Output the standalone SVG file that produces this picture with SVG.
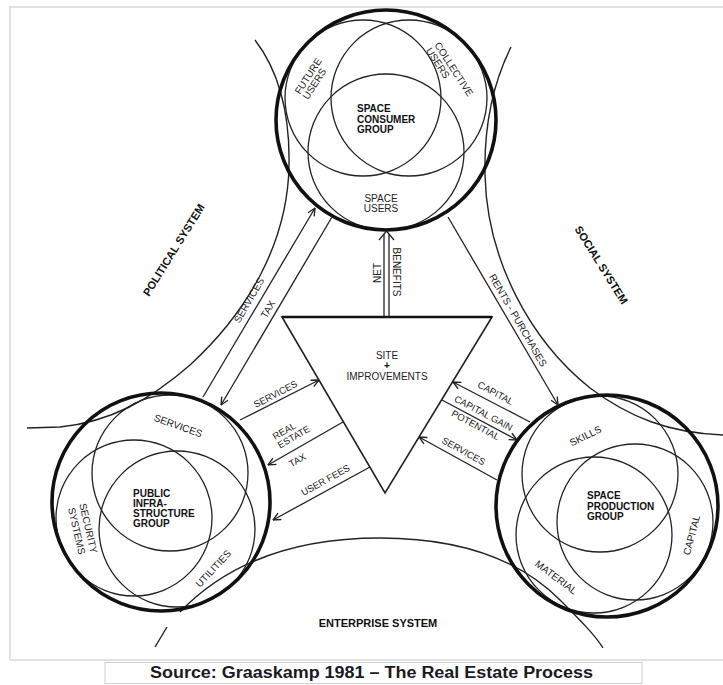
<svg xmlns="http://www.w3.org/2000/svg" width="723" height="685" viewBox="0 0 723 685">
<defs>
<style>
.outer{fill:none;stroke:#111;stroke-width:3.6}
.inner{fill:none;stroke:#222;stroke-width:1.3}
.sys{fill:none;stroke:#222;stroke-width:1.4}
.ln{fill:none;stroke:#222;stroke-width:1.3}
.arr{fill:none;stroke:#222;stroke-width:1.3;marker-end:url(#ah)}
.t{font-family:"Liberation Sans",Arial,sans-serif;font-size:10px;fill:#222}
.s{font-size:9.5px}
.b{font-weight:bold;fill:#111}
.sl{font-family:"Liberation Sans",Arial,sans-serif;font-size:11px;font-weight:bold;fill:#111}
.m{text-anchor:middle}
</style>
<marker id="ah" viewBox="0 0 10 10" refX="9.5" refY="5" markerWidth="9" markerHeight="9" markerUnits="userSpaceOnUse" orient="auto">
<path d="M1,1 L9.5,5 L1,9" fill="none" stroke="#222" stroke-width="1.5"/>
</marker>
</defs>
<rect width="723" height="685" fill="#fff"/>
<path d="M723,7 H10 V660 H723" fill="none" stroke="#d8d8d8" stroke-width="1.5"/>

<g id="systems">
<path class="sys" d="M255,40 C278,70 290,110 289,165 C288,240 250,310 190,365 C150,400 110,422 60,427 L27,428"/>
<path class="sys" d="M511,47 C492,85 484,130 485,175 C487,260 530,340 590,388 C630,418 670,433 723,435"/>
<path class="sys" d="M180,612 C230,560 300,538 380,538 C460,538 520,560 560,600 C580,620 595,635 603,648"/>
<line class="sys" x1="167" y1="627" x2="155" y2="647"/>
<text class="sl m" transform="translate(177,252) rotate(-58)">POLITICAL SYSTEM</text>
<text class="sl m" transform="translate(598,267) rotate(58)">SOCIAL SYSTEM</text>
<text class="sl m" x="378" y="627">ENTERPRISE SYSTEM</text>
</g>

<g id="space-consumer-group">
<circle class="inner" cx="363" cy="98" r="78"/>
<circle class="inner" cx="409" cy="98" r="78"/>
<circle class="inner" cx="386" cy="152" r="78"/>
<circle class="outer" cx="386" cy="120" r="110"/>
<text class="t" transform="translate(300,95) rotate(-57)">FUTURE<tspan x="0" dy="9.5">USERS</tspan></text>
<text class="t" transform="translate(434,45) rotate(57)">COLLECTIVE<tspan x="0" dy="10">USERS</tspan></text>
<text class="t b" x="357" y="112">SPACE<tspan x="357" y="122.5">CONSUMER</tspan><tspan x="357" y="133">GROUP</tspan></text>
<text class="t m" x="381" y="202">SPACE<tspan x="381" y="211.5">USERS</tspan></text>
</g>

<g id="public-infrastructure-group">
<circle class="inner" cx="170" cy="473" r="78"/>
<circle class="inner" cx="134" cy="518" r="78"/>
<circle class="inner" cx="177" cy="529" r="78"/>
<circle class="outer" cx="161" cy="502" r="109"/>
<text class="t m" transform="translate(177,429) rotate(20)">SERVICES</text>
<text class="t b" x="133" y="497">PUBLIC<tspan x="133" y="507">INFRA-</tspan><tspan x="133" y="517">STRUCTURE</tspan><tspan x="133" y="527">GROUP</tspan></text>
<text class="t m" transform="translate(85,529) rotate(77)">SECURITY<tspan x="0" dy="12">SYSTEMS</tspan></text>
<text class="t m" transform="translate(216,571) rotate(-47)">UTILITIES</text>
</g>

<g id="space-production-group">
<circle class="inner" cx="600" cy="474" r="78"/>
<circle class="inner" cx="594" cy="535" r="78"/>
<circle class="inner" cx="635" cy="522" r="78"/>
<circle class="outer" cx="607" cy="506" r="111"/>
<text class="t m" transform="translate(587,439) rotate(-26)">SKILLS</text>
<text class="t b" x="587" y="499">SPACE<tspan x="587" y="509.5">PRODUCTION</tspan><tspan x="587" y="519.5">GROUP</tspan></text>
<text class="t m" transform="translate(695,536) rotate(-75)">CAPITAL</text>
<text class="t m" transform="translate(554,580) rotate(37)">MATERIAL</text>
</g>

<g id="site-improvements">
<polygon points="282,317 492,317 385,493" fill="none" stroke="#222" stroke-width="1.6"/>
<line x1="282" y1="317" x2="492" y2="317" stroke="#111" stroke-width="2.4"/>
<text class="t m" x="387" y="359">SITE</text>
<text class="t m b" x="387" y="369">+</text>
<text class="t m" x="387" y="380">IMPROVEMENTS</text>
</g>

<g id="connectors">
<line class="arr" x1="203" y1="397" x2="315" y2="208"/>
<line class="arr" x1="332" y1="217" x2="221" y2="405"/>
<line class="ln" x1="384" y1="317" x2="384" y2="234"/>
<line class="ln" x1="389" y1="317" x2="389" y2="234"/>
<path class="ln" d="M379,240 L386.5,231 L394,240"/>
<line class="arr" x1="240" y1="420" x2="319" y2="380"/>
<line class="arr" x1="343" y1="422" x2="268" y2="465"/>
<line class="arr" x1="370" y1="467" x2="273" y2="520"/>
<line class="arr" x1="530" y1="422" x2="453" y2="382"/>
<line class="arr" x1="442" y1="400" x2="517" y2="440"/>
<line class="arr" x1="497" y1="480" x2="419" y2="437"/>
<line class="arr" x1="448" y1="217" x2="558" y2="405"/>
<text class="t m" transform="translate(252,302) rotate(-60)">SERVICES</text>
<text class="t m" transform="translate(271,311) rotate(-60)">TAX</text>
<text class="t m" transform="translate(381,273) rotate(-90)">NET</text>
<text class="t m" transform="translate(393,272) rotate(90)">BENEFITS</text>
<text class="t s m" transform="translate(277,397) rotate(-27.5)">SERVICES</text>
<text class="t s" transform="translate(275,440) rotate(-30)">REAL<tspan x="0" dy="10">ESTATE</tspan></text>
<text class="t s m" transform="translate(299,463) rotate(-30)">TAX</text>
<text class="t s m" transform="translate(327,483) rotate(-29)">USER FEES</text>
<text class="t s m" transform="translate(494,396) rotate(28)">CAPITAL</text>
<text class="t s m" transform="translate(482,416) rotate(28)">CAPITAL GAIN</text>
<text class="t s m" transform="translate(474,428) rotate(28)">POTENTIAL</text>
<text class="t s m" transform="translate(462,454) rotate(29)">SERVICES</text>
<text class="t m" transform="translate(515,322) rotate(60)">RENTS - PURCHASES</text>
</g>

<g id="caption">
<rect x="105" y="662.5" width="537" height="21" fill="#fff" stroke="#d0d0d0"/>
<text x="150" y="678" font-family="'Liberation Sans',Arial,sans-serif" font-size="16" font-weight="bold" fill="#1a1a24" textLength="443" lengthAdjust="spacingAndGlyphs">Source: Graaskamp 1981 – The Real Estate Process</text>
</g>
</svg>
